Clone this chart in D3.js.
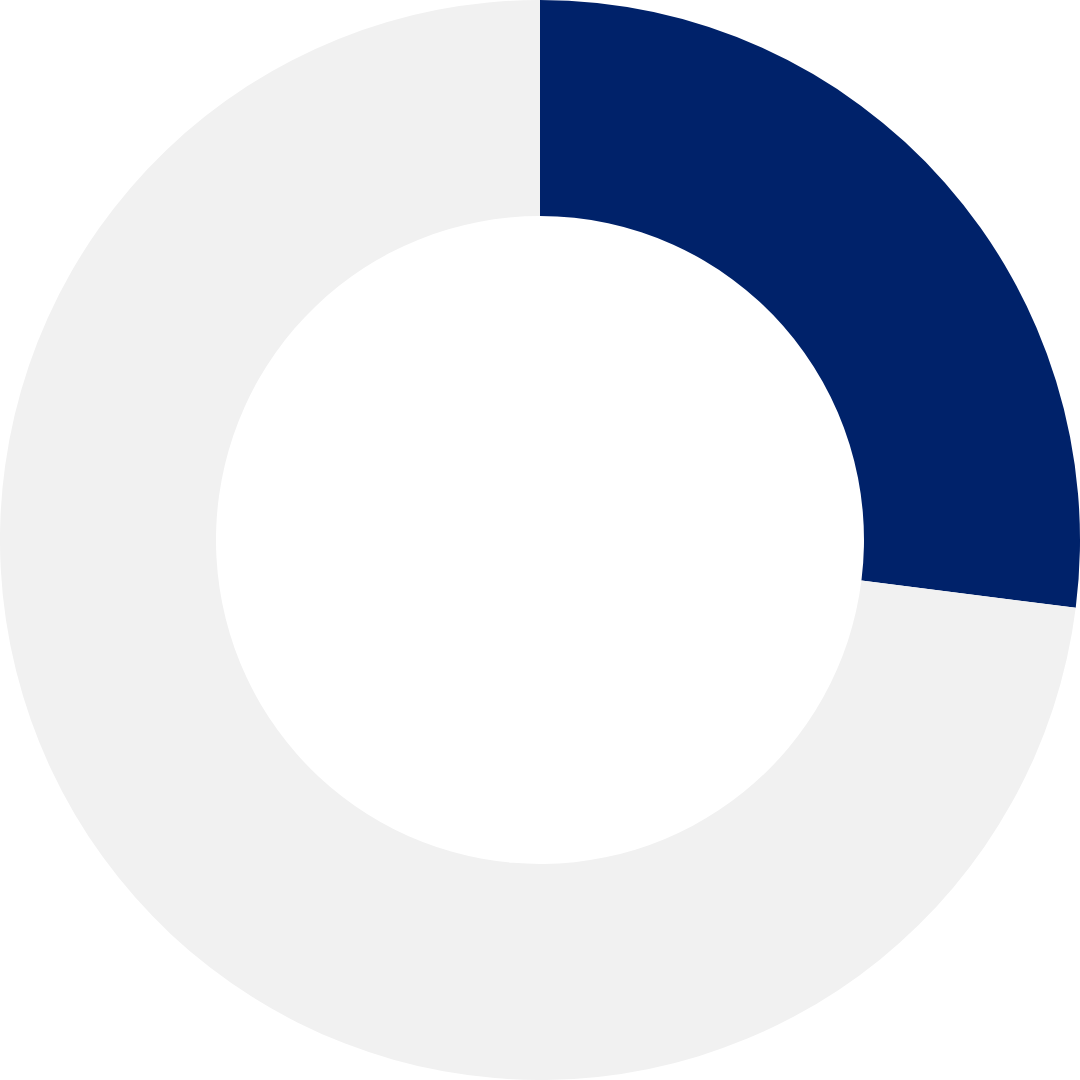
<!DOCTYPE html>
<html lang="en">
  <head>
    <meta charset="UTF-8" />
    <script src="https://d3js.org/d3.v7.min.js"></script>
    <title>Donut</title>
    <style>
      html, body { margin: 0; padding: 0; background: #ffffff; }
    </style>
  </head>
  <body>
    <div id="chart-container"></div>

    <script>
      // Data
      const categories = ["Share", "Rest"];
      const values = [27, 73];

      const width = 1080;
      const height = 1080;
      const outerRadius = 540;
      const innerRadius = 324;

      const color = d3
        .scaleOrdinal()
        .domain(categories)
        .range(["#00226A", "#F1F1F1"]);

      const svg = d3
        .select("#chart-container")
        .append("svg")
        .attr("width", width)
        .attr("height", height)
        .append("g")
        .attr("transform", "translate(" + width / 2 + "," + height / 2 + ")");

      const pie = d3
        .pie()
        .sort(null)
        .value((d, i) => values[i]);

      const arc = d3.arc().innerRadius(innerRadius).outerRadius(outerRadius);

      svg
        .selectAll("path")
        .data(pie(categories))
        .join("path")
        .attr("fill", (d) => color(d.data))
        .attr("d", arc);
    </script>
  </body>
</html>
